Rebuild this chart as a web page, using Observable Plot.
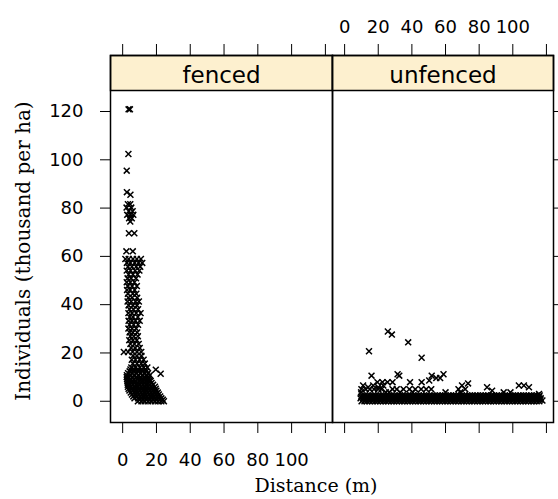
<!DOCTYPE html>
<html><head><meta charset="utf-8">
<script src="https://cdn.jsdelivr.net/npm/d3@7"></script>
<script src="https://cdn.jsdelivr.net/npm/@observablehq/plot@0.6"></script>
<style>
html,body{margin:0;padding:0;background:#fff;}
#chart{position:relative;width:558px;height:499px;overflow:hidden;background:#fff;}
#chart svg{position:absolute;top:0;overflow:visible;max-width:none;}
</style></head><body><div id="chart"></div>
<script>
const panels = ["fenced", "unfenced"];
const xTicks = [0, 20, 40, 60, 80, 100, 120];
const xTickLabels = [0, 20, 40, 60, 80, 100];
const yTicks = [0, 20, 40, 60, 80, 100, 120];
const xTitle = "Distance (m)";
const yTitle = "Individuals (thousand per ha)";

// each row: [individuals, distance, distance, ...]
const fencedRows = [
  [120.9, 3.5, 4.3],
  [102.4, 3.4],
  [95.5, 2.4],
  [86.6, 2.5],
  [85.5, 4.6],
  [81.6, 3.1, 4.5],
  [80.2, 2.3, 5.1],
  [78.7, 3.6, 5.9],
  [77.2, 2.7, 4.6, 6.3],
  [75.8, 3.8, 5.4],
  [74.4, 4.5],
  [69.6, 3.7, 6.9],
  [62.1, 2.2, 6.0],
  [58.9, 1.6, 3.6, 6.1, 8.4, 10.8],
  [57.3, 2.5, 4.6, 7.1, 9.4, 11.6],
  [55.7, 3.1, 5.5, 8.0, 10.4],
  [54.1, 2.4, 4.7, 7.4, 9.9],
  [52.5, 3.5, 6.1, 8.8],
  [50.9, 2.9, 5.0, 7.9],
  [49.3, 2.4, 4.6, 7.0],
  [47.7, 3.0, 5.6, 8.4],
  [46.1, 2.6, 4.5, 7.1],
  [44.5, 3.1, 6.0, 8.1],
  [42.9, 3.4, 5.6, 8.6],
  [41.3, 2.9, 5.1, 7.6, 9.6],
  [39.7, 3.5, 6.1, 8.5],
  [38.1, 4.0, 6.4, 9.1],
  [36.5, 3.4, 5.6, 8.0, 10.6],
  [34.9, 4.1, 6.1, 9.0],
  [33.3, 3.5, 5.5, 7.6, 10.1],
  [31.7, 4.0, 6.5, 9.1],
  [30.1, 3.4, 5.6, 8.0],
  [28.5, 4.1, 6.0, 8.6],
  [26.9, 4.5, 6.6, 9.0],
  [25.3, 3.9, 6.1, 8.4],
  [23.7, 4.6, 7.0, 9.5],
  [22.1, 5.0, 7.4, 10.1],
  [20.4, 0.7, 3.2, 5.9, 8.5, 11.0],
  [18.8, 6.1, 8.4, 11.1],
  [17.2, 5.4, 7.6, 10.0, 12.4],
  [15.6, 6.0, 8.5, 11.0, 13.1],
  [14.0, 5.1, 7.5, 10.1, 12.5, 14.6],
  [13.2, 4.6, 6.8, 9.2, 11.4, 13.6],
  [13.1, 19.6],
  [12.4, 4.1, 6.5, 9.0, 11.6, 14.0],
  [11.6, 3.2, 5.5, 8.0, 10.4, 12.8, 15.0],
  [11.4, 22.5],
  [10.8, 2.5, 4.6, 7.1, 9.5, 12.0, 14.4, 16.1],
  [10.0, 2.4, 3.6, 5.6, 8.3, 10.6, 13.1, 15.2],
  [9.2, 2.6, 4.5, 6.6, 8.6, 11.1, 13.5, 15.4],
  [8.4, 2.8, 3.8, 5.6, 7.6, 9.6, 11.6, 13.6, 15.6, 16.6],
  [7.6, 3.0, 5.1, 7.0, 9.1, 11.0, 13.1, 15.0, 17.1],
  [6.8, 3.0, 4.1, 6.1, 8.1, 10.1, 12.1, 14.1, 16.1, 18.0],
  [6.0, 3.1, 5.0, 7.1, 9.0, 11.1, 13.0, 15.1, 17.0, 19.1],
  [5.2, 3.5, 5.6, 7.6, 9.6, 11.6, 13.6, 15.6, 17.6, 19.6],
  [4.4, 4.0, 6.1, 8.0, 10.1, 12.0, 14.1, 16.0, 18.1, 20.0],
  [3.6, 4.8, 7.0, 9.0, 11.0, 13.0, 15.0, 17.0, 19.0, 20.8],
  [2.8, 5.5, 7.6, 9.5, 11.6, 13.5, 15.6, 17.5, 19.6, 21.4],
  [2.0, 6.3, 8.4, 10.4, 12.4, 14.4, 16.4, 18.4, 20.4, 22.2],
  [1.2, 7.0, 9.1, 11.0, 13.1, 15.0, 17.1, 19.0, 21.1, 22.9],
  [0.6, 10.0, 12.0, 14.0, 16.0, 18.0, 20.0, 22.0, 23.8],
  [0.0, 9.0, 11.1, 13.0, 15.1, 17.0, 19.1, 21.0, 22.9, 24.4]
];

const unfencedRows = [
  [28.9, 25.7],
  [27.6, 28.1],
  [24.4, 37.8],
  [20.7, 14.5],
  [18.0, 45.8],
  [11.2, 31.5, 58.8],
  [10.6, 16.0, 32.5, 51.8],
  [9.6, 54.5, 56.8],
  [8.6, 50.3],
  [7.9, 19.5, 22.5, 25.5, 28.5, 38.9, 45.8],
  [7.4, 73.4],
  [6.5, 11.0, 17.0, 23.0, 69.8, 103.6, 106.6],
  [5.8, 14.0, 20.0, 84.7, 109.6],
  [5.0, 10.0, 12.5, 15.0, 17.5, 20.0, 22.0, 28.5, 31.0, 35.0, 38.5, 42.0, 45.5, 48.5, 51.5, 67.7, 71.7],
  [4.4, 87.7],
  [3.7, 9.8, 24.5, 26.5, 33.0, 40.5, 60.0, 68.8, 94.6, 98.6],
  [3.0, 115.6],
  [2.4, 10.3, 11.9, 13.6, 15.1, 16.8, 18.4, 20.0, 21.5, 23.2, 24.8, 26.4, 27.9, 29.6, 31.2, 32.8, 34.3, 36.0, 37.6, 39.2, 40.7, 42.4, 44.0, 45.6, 47.1, 48.8, 50.4, 52.0, 53.5, 55.2, 56.8, 58.4, 59.9, 61.6, 63.2, 64.8, 66.3, 68.0, 69.6, 71.2, 72.7, 74.4, 76.0, 77.6, 79.1, 80.8, 82.4, 84.0, 85.5, 87.2, 88.8, 90.4, 91.9, 93.6, 95.2, 96.8, 98.3, 100.0, 101.6, 103.2, 104.7, 106.4, 108.0, 109.6, 111.1, 112.8, 114.4, 116.0],
  [1.8, 9.9, 11.5, 13.2, 14.7, 16.4, 18.0, 19.6, 21.1, 22.8, 24.4, 26.0, 27.5, 29.2, 30.8, 32.4, 33.9, 35.6, 37.2, 38.8, 40.3, 42.0, 43.6, 45.2, 46.7, 48.4, 50.0, 51.6, 53.1, 54.8, 56.4, 58.0, 59.5, 61.2, 62.8, 64.4, 65.9, 67.6, 69.2, 70.8, 72.3, 74.0, 75.6, 77.2, 78.7, 80.4, 82.0, 83.6, 85.1, 86.8, 88.4, 90.0, 91.5, 93.2, 94.8, 96.4, 97.9, 99.6, 101.2, 102.8, 104.3, 106.0, 107.6, 109.2, 110.7, 112.4, 114.0, 115.6],
  [1.2, 9.5, 11.1, 12.8, 14.3, 16.0, 17.6, 19.2, 20.7, 22.4, 24.0, 25.6, 27.1, 28.8, 30.4, 32.0, 33.5, 35.2, 36.8, 38.4, 39.9, 41.6, 43.2, 44.8, 46.3, 48.0, 49.6, 51.2, 52.7, 54.4, 56.0, 57.6, 59.1, 60.8, 62.4, 64.0, 65.5, 67.2, 68.8, 70.4, 71.9, 73.6, 75.2, 76.8, 78.3, 80.0, 81.6, 83.2, 84.7, 86.4, 88.0, 89.6, 91.1, 92.8, 94.4, 96.0, 97.5, 99.2, 100.8, 102.4, 103.9, 105.6, 107.2, 108.8, 110.3, 112.0, 113.6, 115.2, 116.6],
  [0.6, 10.9, 12.5, 14.1, 15.7, 17.3, 19.0, 20.5, 22.1, 23.7, 25.4, 26.9, 28.5, 30.1, 31.8, 33.3, 34.9, 36.5, 38.2, 39.7, 41.3, 42.9, 44.6, 46.1, 47.7, 49.3, 51.0, 52.5, 54.1, 55.7, 57.4, 58.9, 60.5, 62.1, 63.8, 65.3, 66.9, 68.5, 70.2, 71.7, 73.3, 74.9, 76.6, 78.1, 79.7, 81.3, 83.0, 84.5, 86.1, 87.7, 89.4, 90.9, 92.5, 94.1, 95.8, 97.3, 98.9, 100.5, 102.2, 103.7, 105.3, 106.9, 108.6, 110.1, 111.7, 113.3, 115.0, 116.4],
  [0.0, 10.1, 11.8, 13.3, 14.9, 16.5, 18.2, 19.7, 21.3, 22.9, 24.6, 26.1, 27.7, 29.3, 31.0, 32.5, 34.1, 35.7, 37.4, 38.9, 40.5, 42.1, 43.8, 45.3, 46.9, 48.5, 50.2, 51.7, 53.3, 54.9, 56.6, 58.1, 59.7, 61.3, 63.0, 64.5, 66.1, 67.7, 69.4, 70.9, 72.5, 74.1, 75.8, 77.3, 78.9, 80.5, 82.2, 83.7, 85.3, 86.9, 88.6, 90.1, 91.7, 93.3, 95.0, 96.5, 98.1, 99.7, 101.4, 102.9, 104.5, 106.1, 107.8, 109.3, 110.9, 112.5, 114.2, 115.8],
  [0.3, 117.6]
];

function toTable(rows, panel) {
  return rows.flatMap(([v, ...ds]) => ds.map(d => ({panel, distance: d, individuals: v})));
}
const tables = {fenced: toTable(fencedRows, "fenced"), unfenced: toTable(unfencedRows, "unfenced")};

const INK = "black";
const STRIP = "#fdf0cf";
const tickFont = 18;

function panelPlot(panel, cfg) {
  return Plot.plot({
    width: cfg.width,
    height: 499,
    marginLeft: cfg.ml,
    marginRight: cfg.mr,
    marginTop: 55,
    marginBottom: 77,
    x: {domain: [-7.2, 124.2]},
    y: {domain: [-8.8, 128.7], insetTop: 35},
    style: {fontFamily: "DejaVu Sans", background: "transparent", overflow: "visible", color: INK},
    marks: [
      Plot.frame({insetBottom: 332, fill: STRIP, stroke: INK, strokeWidth: 1.5}),
      Plot.text([panel], {text: d => d, frameAnchor: "top", dy: 11.5, fontSize: 23, fill: INK}),
      Plot.dot(tables[panel], {x: "distance", y: "individuals", symbol: "times", r: 2.8, stroke: INK, strokeWidth: 1.5}),
      Plot.frame({stroke: INK, strokeWidth: 1.5}),
      ...cfg.axes
    ]
  });
}

const left = panelPlot("fenced", {
  width: 333, ml: 110, mr: 1,
  axes: [
    Plot.axisY(yTicks, {anchor: "left", tickSize: 10, tickPadding: 17, fontSize: tickFont, label: null, stroke: INK, fill: INK}),
    Plot.axisX(xTicks, {anchor: "bottom", tickSize: 11, fill: "none", stroke: INK, label: null}),
    Plot.axisX(xTickLabels, {anchor: "bottom", tickSize: 0, tickPadding: 31, fontSize: tickFont, fill: INK, label: null}),
    Plot.axisX(xTicks, {anchor: "top", tickSize: 12, fill: "none", stroke: INK, label: null})
  ]
});
const right = panelPlot("unfenced", {
  width: 227, ml: 1, mr: 5,
  axes: [
    Plot.axisY(yTicks, {anchor: "right", tickSize: 10, fill: "none", stroke: INK, label: null}),
    Plot.axisX(xTicks, {anchor: "bottom", tickSize: 11, fill: "none", stroke: INK, label: null}),
    Plot.axisX(xTicks, {anchor: "top", tickSize: 12, fill: "none", stroke: INK, label: null}),
    Plot.axisX(xTickLabels, {anchor: "top", tickSize: 0, tickPadding: 23, fontSize: tickFont, fill: INK, label: null})
  ]
});
left.style.left = "0px";
right.style.left = "331px";
const chart = document.getElementById("chart");
chart.appendChild(left);
chart.appendChild(right);

// axis titles
const ns = "http://www.w3.org/2000/svg";
const titles = document.createElementNS(ns, "svg");
titles.setAttribute("width", 558);
titles.setAttribute("height", 499);
titles.style.left = "0px";
titles.style.pointerEvents = "none";
const xt = document.createElementNS(ns, "text");
xt.setAttribute("x", 316); xt.setAttribute("y", 492);
xt.setAttribute("text-anchor", "middle");
xt.setAttribute("font-family", "DejaVu Serif"); xt.setAttribute("font-size", 19);
xt.textContent = xTitle;
const yt = document.createElementNS(ns, "text");
yt.setAttribute("transform", "translate(30,251) rotate(-90)");
yt.setAttribute("text-anchor", "middle");
yt.setAttribute("font-family", "DejaVu Serif"); yt.setAttribute("font-size", 20);
yt.textContent = yTitle;
titles.appendChild(xt); titles.appendChild(yt);
chart.appendChild(titles);
</script></body></html>
